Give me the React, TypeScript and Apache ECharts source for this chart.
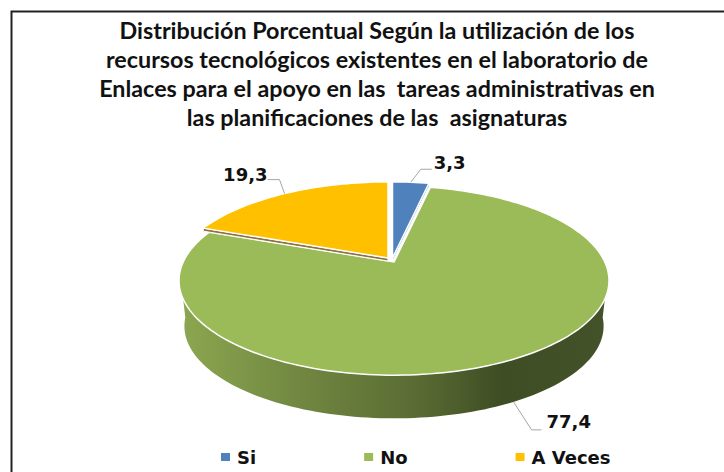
import React, { useEffect, useRef } from "react";
import * as echarts from "echarts";

const titleLines = [
  "Distribución Porcentual Según la utilización de los",
  "recursos tecnológicos existentes en el laboratorio de",
  "Enlaces para el apoyo en las  tareas administrativas en",
  "las planificaciones de las  asignaturas",
];
const categories = ["Si", "No", "A Veces"];
const values = [3.3, 77.4, 19.3];
const labels = ["3,3", "77,4", "19,3"];
const colors = ["#4F81BD", "#9BBB59", "#FFC000"];
const LABEL_FONT = "'DejaVu Sans'";

const CX = 394, CY = 262, A = 210.8, B = 91, K = 0.196, DEPTH = 46, SHRINK = 0.975;
const total = values.reduce((s, v) => s + v, 0);
const starts = values.map((_, i) => (values.slice(0, i).reduce((s, v) => s + v, 0) / total) * 360);
const rad = (d: number) => (d * Math.PI) / 180;

// Perspective projection of a point on the unit disc; deg is clockwise from 12 o'clock.
const project = (deg: number, s = 1, dy = 0, ox = 0, oy = 0): number[] => {
  const X = Math.sin(rad(deg)), Y = -Math.cos(rad(deg));
  const w = 1 - K * Y;
  return [CX + ox + (X * A * s) / w, CY + oy + dy + (Y * B * s) / w];
};
const arc = (a0: number, a1: number, f: (d: number) => number[]) => {
  const n = Math.max(2, Math.ceil(Math.abs(a1 - a0) / 1.5));
  return Array.from({ length: n + 1 }, (_, i) => f(a0 + ((a1 - a0) * i) / n));
};

const offsets: number[][] = [[-1.5, -4], [0, 0], [-6, -4]];
const sideStops = [
  { offset: 0, color: "#8CA750" },
  { offset: 0.3, color: "#6F8540" },
  { offset: 0.55, color: "#5A6C33" },
  { offset: 0.75, color: "#3F4D24" },
  { offset: 1, color: "#44522A" },
];

const renderSlice = (i: number) => (_: any, api: any) => {
  const value = api.value(0);
  const a0 = starts[i], a1 = a0 + (value / total) * 360;
  const [ox, oy] = offsets[i];
  const rim = arc(a0, a1, (d) => project(d, 1, 0, ox, oy));
  const apex = [CX + ox, CY + oy];
  const children: any[] = [];
  if (i === 1) {
    const front = arc(96, 264, (d) => project(d));
    const back = arc(264, 96, (d) => project(d, SHRINK, DEPTH));
    children.push({
      type: "polygon",
      shape: { points: [...front, ...back] },
      style: { fill: new echarts.graphic.LinearGradient(0, 0, 1, 0, sideStops) },
    });
  } else {
    const p = project(i === 0 ? a1 : a0, 1, 0, ox, oy);
    const t = 3;
    children.push({
      type: "polygon",
      shape: { points: [apex, p, [p[0], p[1] + t], [apex[0], apex[1] + t]] },
      style: { fill: i === 0 ? "#3E6A9E" : "#8C7340", stroke: "#fff", lineWidth: 1 },
    });
  }
  children.push({
    type: "polygon",
    shape: { points: [apex, ...rim] },
    style: { fill: colors[i], stroke: "#fff", lineWidth: 1.5 },
  });
  return { type: "group", children };
};

const leaderOffsets: number[][][] = [
  [[10, -13], [21, -13]],
  [[18, 28], [28, 28]],
  [[-5, -14], [-17, -14]],
];
const labelOffsets: number[][] = [[2, -7], [5, -8], [0, -5]];

const renderLabel = (i: number) => (_: any, api: any) => {
  const value = api.value(0);
  const a0 = starts[i], a1 = a0 + (value / total) * 360;
  const [ox, oy] = offsets[i];
  const deg = (a0 + a1) / 2;
  const p = i === 1 ? project(deg, SHRINK, DEPTH) : project(deg, 1, 0, ox, oy);
  const pts = [p, ...leaderOffsets[i].map(([x, y]) => [p[0] + x, p[1] + y])];
  const end = pts[2];
  return {
    type: "group",
    children: [
      { type: "polyline", shape: { points: pts }, style: { stroke: "#A6A6A6", lineWidth: 1, fill: "none" } },
      {
        type: "text",
        style: {
          x: end[0] + labelOffsets[i][0],
          y: end[1] + labelOffsets[i][1],
          text: labels[i],
          fill: "#111",
          font: `bold 18px ${LABEL_FONT}`,
          textAlign: i === 2 ? "right" : "left",
          textVerticalAlign: "middle",
        },
      },
    ],
  };
};

export default function App() {
  const ref = useRef<HTMLDivElement>(null);
  useEffect(() => {
    const chart = echarts.init(ref.current!, undefined, { renderer: "svg" });
    const order = [1, 2, 0];
    chart.setOption({
      animation: false,
      backgroundColor: "#fff",
      title: {
        text: titleLines.join("\n"),
        left: 372,
        top: 10,
        textAlign: "center",
        textStyle: { fontFamily: "Lato", fontWeight: "bold", fontSize: 23.3, lineHeight: 29, color: "#111" },
      },
      legend: {
        data: categories,
        top: 443,
        left: 216,
        itemWidth: 9,
        itemHeight: 8,
        itemGap: 108,
        icon: "rect",
        textStyle: { fontFamily: LABEL_FONT, fontWeight: "bold", fontSize: 18, color: "#111", padding: [0, 0, 0, 2] },
      },
      graphic: [
        { type: "rect", z: 0, shape: { x: 11.5, y: 11.5, width: 800, height: 600 }, style: { fill: "none", stroke: "#222", lineWidth: 2 } },
      ],
      series: [
        ...order.map((i) => ({
          type: "custom",
          name: categories[i],
          coordinateSystem: "none",
          renderItem: renderSlice(i),
          data: [[values[i]]],
          itemStyle: { color: colors[i] },
          silent: true,
          z: 2,
        })),
        ...order.map((i) => ({
          type: "custom",
          name: categories[i] + " etiqueta",
          coordinateSystem: "none",
          renderItem: renderLabel(i),
          data: [[values[i]]],
          silent: true,
          z: 3,
        })),
      ],
    });
    return () => chart.dispose();
  }, []);
  return <div ref={ref} style={{ position: "absolute", left: 0, top: 0, width: 724, height: 472 }} />;
}
